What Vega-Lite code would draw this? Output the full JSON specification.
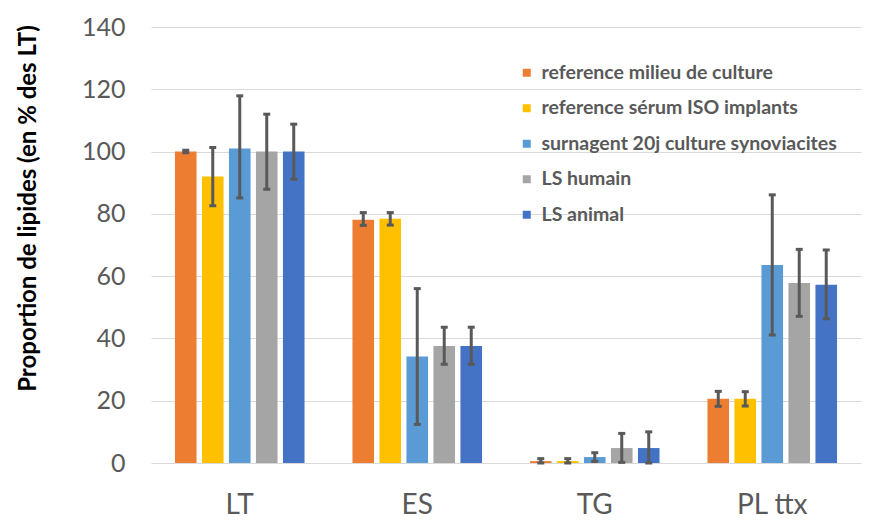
{
  "$schema": "https://vega.github.io/schema/vega-lite/v6.json",
  "width": 710,
  "height": 436,
  "autosize": "none",
  "padding": {"left": 151, "top": 27, "right": 32, "bottom": 60},
  "background": "white",
  "config": {"view": {"stroke": null}, "font": "Lato"},
  "data": {
    "values": [
      {"cat": "LT", "serie": "reference milieu de culture", "value": 100, "lo": 99.6, "hi": 100.4},
      {"cat": "LT", "serie": "reference sérum ISO implants", "value": 92, "lo": 82.6, "hi": 101.3},
      {"cat": "LT", "serie": "surnagent 20j culture synoviacites", "value": 101, "lo": 85.1, "hi": 117.9},
      {"cat": "LT", "serie": "LS humain", "value": 100, "lo": 87.9, "hi": 112.0},
      {"cat": "LT", "serie": "LS animal", "value": 100, "lo": 91.1, "hi": 108.8},
      {"cat": "ES", "serie": "reference milieu de culture", "value": 78.1, "lo": 76.3, "hi": 80.4},
      {"cat": "ES", "serie": "reference sérum ISO implants", "value": 78.4, "lo": 76.4, "hi": 80.4},
      {"cat": "ES", "serie": "surnagent 20j culture synoviacites", "value": 34.2, "lo": 12.4, "hi": 56.0},
      {"cat": "ES", "serie": "LS humain", "value": 37.6, "lo": 31.7, "hi": 43.6},
      {"cat": "ES", "serie": "LS animal", "value": 37.6, "lo": 31.7, "hi": 43.6},
      {"cat": "TG", "serie": "reference milieu de culture", "value": 0.6, "lo": 0, "hi": 1.4},
      {"cat": "TG", "serie": "reference sérum ISO implants", "value": 0.6, "lo": 0, "hi": 1.4},
      {"cat": "TG", "serie": "surnagent 20j culture synoviacites", "value": 1.9, "lo": 0.5, "hi": 3.3},
      {"cat": "TG", "serie": "LS humain", "value": 4.8, "lo": 0.2, "hi": 9.5},
      {"cat": "TG", "serie": "LS animal", "value": 4.8, "lo": 0, "hi": 10.0},
      {"cat": "PL ttx", "serie": "reference milieu de culture", "value": 20.6, "lo": 18.2, "hi": 23.0},
      {"cat": "PL ttx", "serie": "reference sérum ISO implants", "value": 20.6, "lo": 18.3, "hi": 22.9},
      {"cat": "PL ttx", "serie": "surnagent 20j culture synoviacites", "value": 63.6, "lo": 41.1, "hi": 86.1},
      {"cat": "PL ttx", "serie": "LS humain", "value": 57.8, "lo": 47.1, "hi": 68.6},
      {"cat": "PL ttx", "serie": "LS animal", "value": 57.2, "lo": 46.3, "hi": 68.4}
    ]
  },
  "encoding": {
    "x": {
      "field": "cat", "type": "nominal",
      "sort": ["LT", "ES", "TG", "PL ttx"],
      "scale": {"paddingInner": 0.27, "paddingOuter": 0.135},
      "axis": {"title": null, "labelAngle": 0, "domain": false, "ticks": false, "labelFontSize": 28, "labelColor": "#595959", "labelPadding": 28, "labelFont": "Lato"}
    },
    "xOffset": {
      "field": "serie", "type": "nominal",
      "sort": ["reference milieu de culture", "reference sérum ISO implants", "surnagent 20j culture synoviacites", "LS humain", "LS animal"],
      "scale": {"paddingInner": 0.2, "paddingOuter": 0}
    }
  },
  "layer": [
    {
      "mark": {"type": "bar"},
      "encoding": {
        "y": {
          "field": "value", "type": "quantitative",
          "title": "Proportion de lipides (en % des LT)",
          "scale": {"domain": [0, 140]},
          "axis": {
            "values": [0, 20, 40, 60, 80, 100, 120, 140],
            "grid": true, "gridColor": "#d9d9d9", "gridWidth": 1,
            "domain": false, "ticks": false,
            "labelFontSize": 25, "labelColor": "#595959", "labelPadding": 26, "labelFont": "Lato",
            "titleFontSize": 24, "titleFontWeight": "bold", "titleColor": "#000000", "titleFont": "Lato",
            "titleX": -123, "titleY": 181, "titleAngle": 270, "titleAlign": "center", "titleBaseline": "middle"
          }
        },
        "color": {
          "field": "serie", "type": "nominal",
          "sort": ["reference milieu de culture", "reference sérum ISO implants", "surnagent 20j culture synoviacites", "LS humain", "LS animal"],
          "scale": {
            "domain": ["reference milieu de culture", "reference sérum ISO implants", "surnagent 20j culture synoviacites", "LS humain", "LS animal"],
            "range": ["#ED7D31", "#FFC000", "#5B9BD5", "#A5A5A5", "#4472C4"]
          },
          "legend": {
            "title": null, "orient": "none", "legendX": 366, "legendY": 36,
            "symbolType": "square", "symbolSize": 64, "symbolStrokeWidth": 0,
            "labelFontSize": 19.5, "labelFontWeight": "bold", "labelColor": "#595959", "labelFont": "Lato",
            "labelOffset": 5, "rowPadding": 14.5, "padding": 0, "labelLimit": 400
          }
        }
      }
    },
    {
      "mark": {"type": "rule", "color": "#595959", "strokeWidth": 3},
      "encoding": {
        "y": {"field": "lo", "type": "quantitative", "title": "Proportion de lipides (en % des LT)"},
        "y2": {"field": "hi"}
      }
    },
    {
      "mark": {"type": "tick", "color": "#595959", "size": 7, "thickness": 3, "opacity": 1},
      "encoding": {
        "y": {"field": "lo", "type": "quantitative", "title": "Proportion de lipides (en % des LT)"}
      }
    },
    {
      "mark": {"type": "tick", "color": "#595959", "size": 7, "thickness": 3, "opacity": 1},
      "encoding": {
        "y": {"field": "hi", "type": "quantitative", "title": "Proportion de lipides (en % des LT)"}
      }
    }
  ]
}
